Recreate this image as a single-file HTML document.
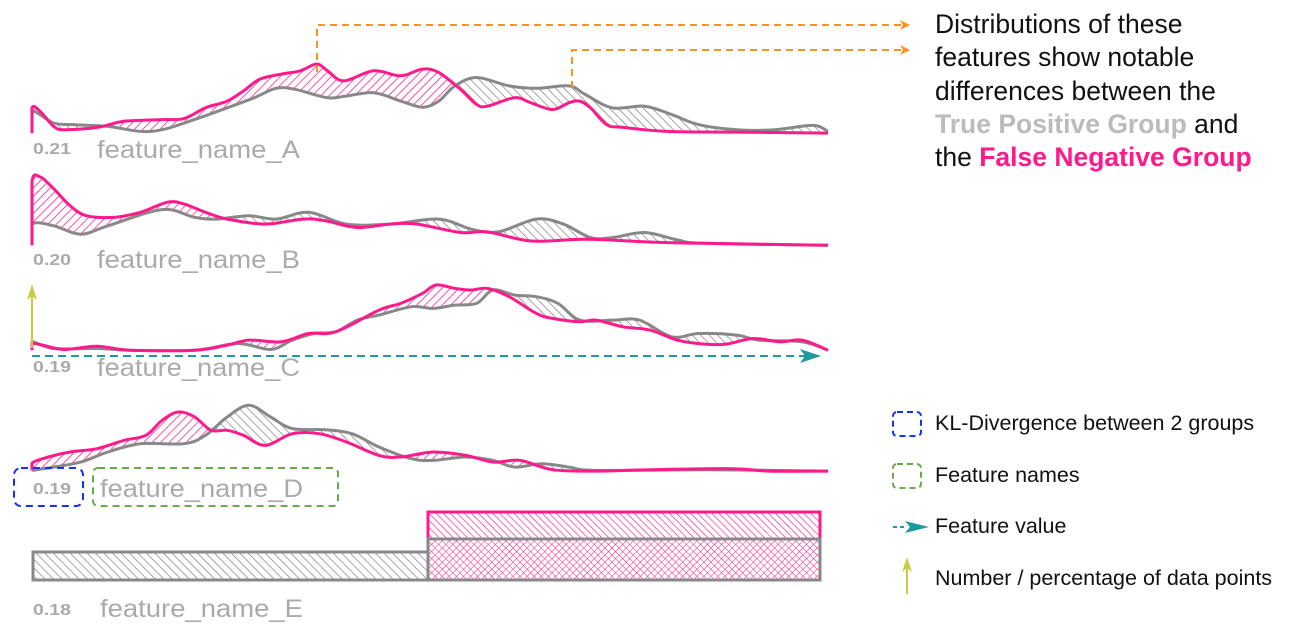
<!DOCTYPE html>
<html><head><meta charset="utf-8"><style>
html,body{margin:0;padding:0;background:#fff;width:1300px;height:638px;overflow:hidden}
svg{display:block}
.lbl{font-family:"Liberation Sans Narrow","Liberation Sans",sans-serif;fill:#aaa}
.rt{font-family:"Liberation Sans",sans-serif;font-size:26.5px;fill:#111}
.lg{font-family:"Liberation Sans",sans-serif;font-size:21.5px;fill:#111}
</style></head><body>
<svg id="s" width="1300" height="638" viewBox="0 0 1300 638" xmlns="http://www.w3.org/2000/svg">
<defs>
<pattern id="hp" patternUnits="userSpaceOnUse" width="6" height="6" patternTransform="rotate(45)"><line x1="0" y1="0" x2="0" y2="6" stroke="#ff1a8c" stroke-width="1.5"/></pattern>
<pattern id="hg" patternUnits="userSpaceOnUse" width="6" height="6" patternTransform="rotate(-45)"><line x1="0" y1="0" x2="0" y2="6" stroke="#888" stroke-width="1.5"/></pattern>
<pattern id="hp2" patternUnits="userSpaceOnUse" width="5" height="5" patternTransform="rotate(-45)"><line x1="0" y1="0" x2="0" y2="5" stroke="#ff1a8c" stroke-width="1.3"/></pattern>
<pattern id="hg2" patternUnits="userSpaceOnUse" width="5" height="5" patternTransform="rotate(45)"><line x1="0" y1="0" x2="0" y2="5" stroke="#888" stroke-width="1.3"/></pattern>
<pattern id="hx" patternUnits="userSpaceOnUse" width="5" height="5" patternTransform="rotate(-45)"><line x1="0" y1="0" x2="0" y2="5" stroke="#ff1a8c" stroke-width="1"/></pattern>
<pattern id="hx2" patternUnits="userSpaceOnUse" width="5" height="5" patternTransform="rotate(45)"><line x1="0" y1="0" x2="0" y2="5" stroke="#ff1a8c" stroke-width="1"/></pattern>
<marker id="mo" markerWidth="10" markerHeight="10" refX="8" refY="5" orient="auto" markerUnits="userSpaceOnUse"><path d="M0,0 L10,5 L0,10 L3,5z" fill="#f7941d"/></marker>
</defs>
<g id="plots"></g>

<rect x="33" y="552" width="395" height="28" fill="url(#hg)" stroke="#888" stroke-width="3"/>
<rect x="428" y="512" width="392" height="27" fill="url(#hp2)" stroke="#ff1a8c" stroke-width="3"/>
<rect x="428" y="539" width="392" height="41" fill="url(#hx)"/>
<rect x="428" y="539" width="392" height="41" fill="url(#hx2)" stroke="#888" stroke-width="3"/>

<g class="lbl">
<text x="33" y="154" font-size="16" font-weight="bold" textLength="38" lengthAdjust="spacingAndGlyphs">0.21</text>
<text x="97" y="158" font-size="25" textLength="203" lengthAdjust="spacingAndGlyphs">feature_name_A</text>
<text x="33" y="265" font-size="16" font-weight="bold" textLength="38" lengthAdjust="spacingAndGlyphs">0.20</text>
<text x="97" y="268" font-size="25" textLength="203" lengthAdjust="spacingAndGlyphs">feature_name_B</text>
<text x="33" y="372" font-size="16" font-weight="bold" textLength="38" lengthAdjust="spacingAndGlyphs">0.19</text>
<text x="97" y="376" font-size="25" textLength="203" lengthAdjust="spacingAndGlyphs">feature_name_C</text>
<text x="33" y="494" font-size="16" font-weight="bold" textLength="38" lengthAdjust="spacingAndGlyphs">0.19</text>
<text x="100" y="497" font-size="25" textLength="203" lengthAdjust="spacingAndGlyphs">feature_name_D</text>
<text x="33" y="615" font-size="16" font-weight="bold" textLength="38" lengthAdjust="spacingAndGlyphs">0.18</text>
<text x="100" y="617" font-size="25" textLength="203" lengthAdjust="spacingAndGlyphs">feature_name_E</text>
</g>

<rect x="14" y="468" width="69" height="38" rx="7" fill="none" stroke="#1530ff" stroke-width="2" stroke-dasharray="7,5"/>
<rect x="93" y="468" width="245" height="38" rx="5" fill="none" stroke="#6aaa4a" stroke-width="2" stroke-dasharray="7,5"/>

<line x1="32" y1="348" x2="32" y2="296" stroke="#c8cc44" stroke-width="2"/>
<path d="M27,300 L32,284 L37,300 L32,296z" fill="#c8cc44"/>
<line x1="32" y1="356" x2="812" y2="356" stroke="#1e9aa0" stroke-width="2" stroke-dasharray="8,5"/>
<path d="M800,349 L821,356 L800,363 L805,356z" fill="#1e9aa0"/>

<polyline points="317,72 317,25 908,25" fill="none" stroke="#f7941d" stroke-width="2" stroke-dasharray="7,5" marker-end="url(#mo)"/>
<polyline points="572,88 572,50 908,50" fill="none" stroke="#f7941d" stroke-width="2" stroke-dasharray="7,5" marker-end="url(#mo)"/>

<text class="rt" x="935" y="33">Distributions of these</text>
<text class="rt" x="935" y="66">features show notable</text>
<text class="rt" x="935" y="100">differences between the</text>
<text class="rt" x="935" y="133"><tspan fill="#bbb" font-weight="bold">True Positive Group</tspan> and</text>
<text class="rt" x="935" y="166">the <tspan fill="#ff1a8c" font-weight="bold">False Negative Group</tspan></text>

<rect x="893" y="412" width="28" height="24" rx="4" fill="none" stroke="#1530ff" stroke-width="2" stroke-dasharray="6,4"/>
<text class="lg" x="935" y="430">KL-Divergence between 2 groups</text>
<rect x="893" y="464" width="28" height="24" rx="4" fill="none" stroke="#6aaa4a" stroke-width="2" stroke-dasharray="6,4"/>
<text class="lg" x="935" y="482">Feature names</text>
<line x1="893" y1="527" x2="905" y2="527" stroke="#1e9aa0" stroke-width="2" stroke-dasharray="4,3"/>
<path d="M905,521 L929,527 L905,533 L910,527z" fill="#1e9aa0"/>
<text class="lg" x="935" y="533">Feature value</text>
<line x1="907" y1="594" x2="907" y2="568" stroke="#c8cc44" stroke-width="2"/>
<path d="M902,572 L907,557 L912,572 L907,568z" fill="#c8cc44"/>
<text class="lg" x="935" y="585">Number / percentage of data points</text>
</svg>
<script>
(function(){
var NS="http://www.w3.org/2000/svg";
function X(z){return 32+(z-60)*796/1468;}
var panels=[
 {oy:0,fy:0.337,base:133,
  p:[[60,395],[60,320],[75,330],[100,375],[120,385],[180,378],[230,360],[300,355],[340,352],[380,320],[420,300],[450,270],[480,235],[520,220],[555,210],[585,190],[605,210],[635,240],[690,210],[740,225],[780,205],[810,215],[850,265],[880,310],[900,315],[950,290],[980,305],[1020,325],[1050,305],[1070,300],[1090,320],[1120,370],[1150,378],[1230,390],[1350,392],[1528,395]],
  g:[[60,395],[60,330],[100,365],[140,370],[200,375],[260,390],[300,385],[350,360],[420,320],[470,290],[510,262],[545,265],[605,290],[640,285],[690,275],[740,300],[780,318],[810,300],[840,255],[880,230],[940,255],[990,262],[1050,255],[1080,280],[1130,320],[1190,315],[1240,340],[1290,370],[1360,385],[1430,385],[1500,372],[1528,390]]},
 {oy:0,fy:0.337,base:245,
  p:[[60,728],[60,540],[75,525],[100,560],[130,610],[160,640],[210,645],[260,630],[310,600],[340,605],[380,630],[420,650],[490,665],[560,650],[600,655],[660,675],[720,665],[770,665],[850,690],[900,688],[980,715],[1080,710],[1200,718],[1300,722],[1528,728]],
  g:[[60,728],[60,665],[100,670],[150,695],[200,670],[300,622],[360,645],[400,650],[460,640],[510,650],[570,630],[640,665],[720,665],[810,650],[870,680],[920,688],[990,650],[1040,665],[1090,705],[1130,705],[1190,690],[1250,712],[1300,722],[1528,728]]},
 {oy:270,fy:0.334,base:351,
  p:[[60,240],[60,220],[80,225],[120,238],[180,228],[240,240],[360,240],[420,225],[460,210],[520,215],[570,190],[620,185],[700,120],[740,100],[780,70],[805,45],[840,55],[870,60],[900,55],[940,80],[990,130],[1020,145],[1070,155],[1100,150],[1150,170],[1200,180],[1250,210],[1300,222],[1340,222],[1390,205],[1440,215],[1480,210],[1528,240]],
  g:[[60,240],[60,215],[100,235],[180,235],[240,240],[360,240],[440,220],[500,238],[540,210],[580,190],[620,185],[660,150],[700,135],[760,110],[800,115],[840,105],[880,100],[910,60],[950,75],[990,80],[1030,100],[1070,150],[1130,150],[1180,150],[1240,200],[1290,190],[1360,195],[1400,210],[1480,215],[1528,240]]},
 {oy:270,fy:0.334,base:472,
  p:[[60,600],[60,578],[90,560],[130,545],[180,535],[230,510],[270,495],[300,450],[330,425],[360,440],[390,480],[420,480],[450,495],[490,525],[540,490],[590,490],[640,515],[700,555],[740,560],[800,545],[860,555],[910,575],[960,570],[1020,598],[1100,602],[1200,598],[1350,595],[1420,602],[1528,602]],
  g:[[60,600],[100,590],[150,575],[200,545],[260,520],[340,520],[380,495],[420,440],[460,405],[500,440],[540,475],[600,478],[650,490],[700,530],[760,565],[800,570],[860,560],[910,570],[950,590],[1000,580],[1050,590],[1100,600],[1300,598],[1528,602]]}
];
function conv(pts,P){return pts.map(function(a){return [X(a[0]),P.oy+a[1]*P.fy];});}
function smooth(pts){
 var d="M"+pts[0][0].toFixed(1)+","+pts[0][1].toFixed(1);
 for(var i=0;i<pts.length-1;i++){
  var p0=pts[i>0?i-1:i],p1=pts[i],p2=pts[i+1],p3=pts[i+2<pts.length?i+2:i+1];
  var c1x=p1[0]+(p2[0]-p0[0])/6,c1y=p1[1]+(p2[1]-p0[1])/6;
  var c2x=p2[0]-(p3[0]-p1[0])/6,c2y=p2[1]-(p3[1]-p1[1])/6;
  if(p1[0]===p2[0]){d+=" L"+p2[0].toFixed(1)+","+p2[1].toFixed(1);continue;}
  d+=" C"+c1x.toFixed(1)+","+c1y.toFixed(1)+" "+c2x.toFixed(1)+","+c2y.toFixed(1)+" "+p2[0].toFixed(1)+","+p2[1].toFixed(1);
 }
 return d;
}
var g=document.getElementById("plots");
var defs=document.querySelector("defs");
function el(n,a){var e=document.createElementNS(NS,n);for(var k in a)e.setAttribute(k,a[k]);return e;}
panels.forEach(function(P,i){
 var pp=conv(P.p,P),gp=conv(P.g,P);
 var dp=smooth(pp),dg=smooth(gp);
 var end=pp[pp.length-1][0];
 var top=P.base-200, bot=P.base+5;
 var cAg=el("clipPath",{id:"ag"+i});cAg.appendChild(el("path",{d:dg+" L"+end+","+top+" L32,"+top+" Z"}));defs.appendChild(cAg);
 var cAp=el("clipPath",{id:"ap"+i});cAp.appendChild(el("path",{d:dp+" L"+end+","+top+" L32,"+top+" Z"}));defs.appendChild(cAp);
 var wrap1=el("g",{"clip-path":"url(#ag"+i+")"});
 wrap1.appendChild(el("path",{d:dp+" L"+end+","+bot+" L32,"+bot+" Z",fill:"url(#hp)"}));
 g.appendChild(wrap1);
 var wrap2=el("g",{"clip-path":"url(#ap"+i+")"});
 wrap2.appendChild(el("path",{d:dg+" L"+end+","+bot+" L32,"+bot+" Z",fill:"url(#hg)"}));
 g.appendChild(wrap2);
 g.appendChild(el("path",{d:dg,fill:"none",stroke:"#888","stroke-width":"3","stroke-linejoin":"round"}));
 g.appendChild(el("path",{d:dp,fill:"none",stroke:"#ff1a8c","stroke-width":"3","stroke-linejoin":"round"}));
});
})();
</script>
</body></html>
